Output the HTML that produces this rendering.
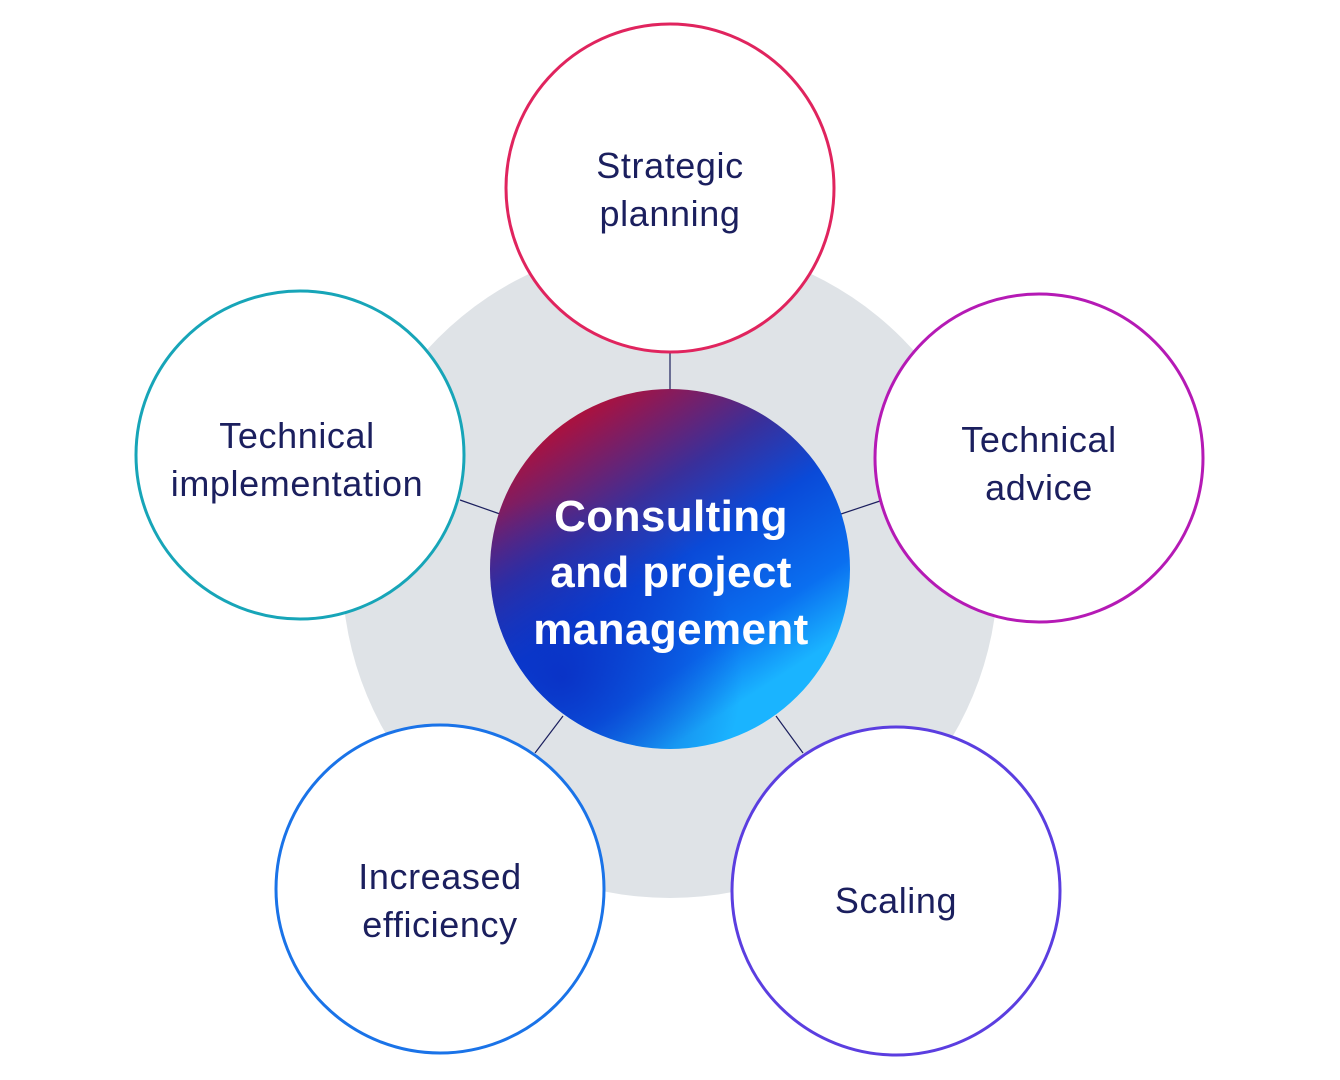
<!DOCTYPE html>
<html><head><meta charset="utf-8"><style>
html,body{margin:0;padding:0;background:#fff;}
svg{display:block;}
.t{font-family:"Liberation Sans",sans-serif;font-size:36px;letter-spacing:0.6px;fill:#1b1f5e;text-anchor:middle;}
.c{font-family:"Liberation Sans",sans-serif;font-size:44px;letter-spacing:0.4px;font-weight:bold;fill:#fff;text-anchor:middle;}
</style></head><body>
<svg width="1340" height="1080" viewBox="0 0 1340 1080" xmlns="http://www.w3.org/2000/svg">
<defs>
<linearGradient id="g" x1="0.25" y1="0.05" x2="0.8" y2="0.9">
<stop offset="0" stop-color="#b0103a"/>
<stop offset="0.3" stop-color="#3a2f9a"/>
<stop offset="0.5" stop-color="#0a4ad8"/>
<stop offset="0.75" stop-color="#0a6ff0"/>
<stop offset="0.92" stop-color="#1ab4ff"/>
</linearGradient>
<radialGradient id="d" cx="0.2" cy="0.8" r="0.5">
<stop offset="0" stop-color="#0a2ac0" stop-opacity="0.8"/>
<stop offset="1" stop-color="#0a2ac0" stop-opacity="0"/>
</radialGradient>
</defs>
<circle cx="670" cy="570" r="328" fill="#dfe3e7"/>
<g stroke="#1b1f5e" stroke-width="1.2">
<line x1="670" y1="352" x2="670" y2="390"/>
<line x1="460" y1="500" x2="500" y2="514"/>
<line x1="880" y1="501" x2="841" y2="514"/>
<line x1="535" y1="753" x2="563" y2="716"/>
<line x1="803" y1="753" x2="776" y2="716"/>
</g>
<circle cx="670" cy="569" r="180" fill="url(#g)"/>
<circle cx="670" cy="569" r="180" fill="url(#d)"/>
<g fill="#fff" stroke-width="3">
<circle cx="670" cy="188" r="164" stroke="#e0245e"/>
<circle cx="300" cy="455" r="164" stroke="#17a5b8"/>
<circle cx="1039" cy="458" r="164" stroke="#b51ab5"/>
<circle cx="440" cy="889" r="164" stroke="#1a73e8"/>
<circle cx="896" cy="891" r="164" stroke="#5b3ee0"/>
</g>
<text class="t" x="670" y="178">Strategic</text>
<text class="t" x="670" y="226">planning</text>
<text class="t" x="297" y="448">Technical</text>
<text class="t" x="297" y="496">implementation</text>
<text class="t" x="1039" y="452">Technical</text>
<text class="t" x="1039" y="500">advice</text>
<text class="t" x="440" y="889">Increased</text>
<text class="t" x="440" y="937">efficiency</text>
<text class="t" x="896" y="913">Scaling</text>
<text class="c" x="671" y="531">Consulting</text>
<text class="c" x="671" y="587">and project</text>
<text class="c" x="671" y="644">management</text>
</svg>
</body></html>
